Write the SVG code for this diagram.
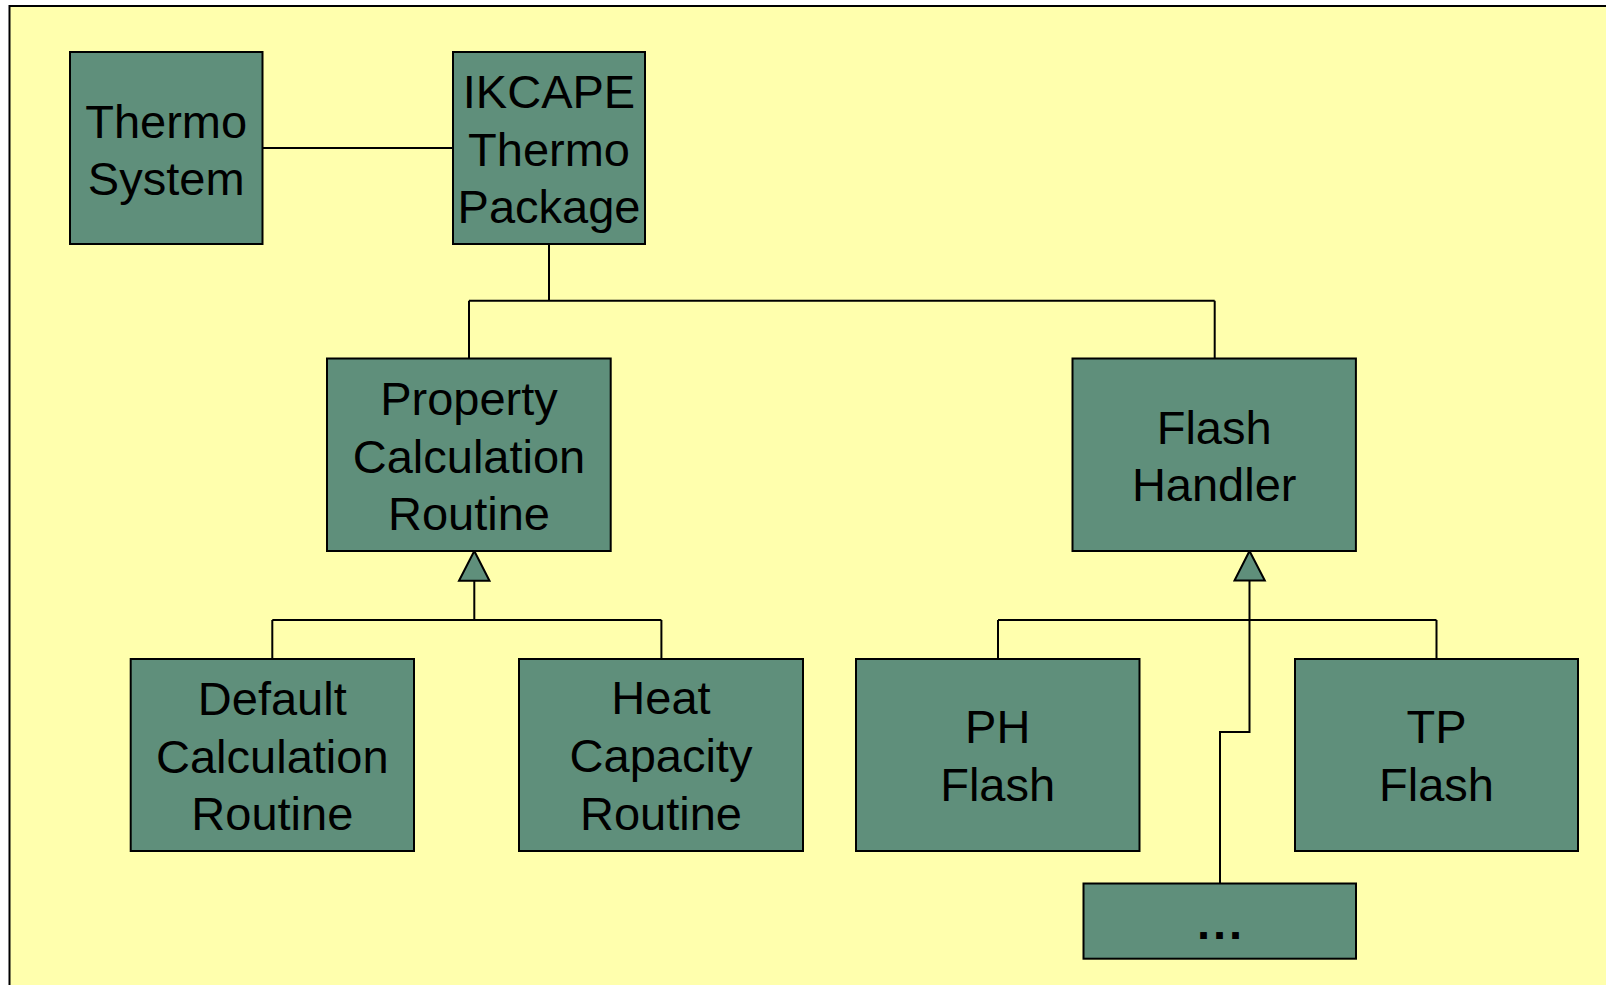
<svg xmlns="http://www.w3.org/2000/svg" width="1606" height="985" viewBox="0 0 1606 985">
<style>
.box{fill:#5F8F7B;stroke:#000;stroke-width:2}
.lbl{font-family:"Liberation Sans",Arial,sans-serif;font-size:47px;fill:#000;text-anchor:middle}
.ln{fill:none;stroke:#000;stroke-width:2}
.tri{fill:#5F8F7B;stroke:#000;stroke-width:2;stroke-linejoin:miter}
</style>
<rect x="0" y="0" width="1606" height="985" fill="#FFFFFF"/>
<rect x="9.5" y="6" width="1610" height="990" fill="#FFFFAD" stroke="#000" stroke-width="2"/>
<g id="connectors">
<path class="ln" d="M262.5,148H453"/>
<path class="ln" d="M549,244V300.7M469,300.7H1214.7M469,300.7V358.5M1214.7,300.7V358.5"/>
<path class="ln" d="M474.3,580.7V620M272.3,620H661.4M272.3,620V659M661.4,620V659"/>
<polygon class="tri" points="474.3,551 459,580.7 489.5,580.7"/>
<path class="ln" d="M1249.5,580.6V732H1220V883.5M998,620H1436.5M998,620V659M1436.5,620V659"/>
<polygon class="tri" points="1249.5,551 1234.5,580.6 1264.8,580.6"/>
</g>
<g id="thermo-system">
<rect class="box" x="70" y="52" width="192.5" height="192"/>
<text class="lbl" x="166.2" y="137.5">Thermo</text>
<text class="lbl" x="166.2" y="194.5">System</text>
</g>
<g id="ikcape">
<rect class="box" x="453" y="52" width="192" height="192"/>
<text class="lbl" x="549" y="108.3">IKCAPE</text>
<text class="lbl" x="549" y="165.7">Thermo</text>
<text class="lbl" x="549" y="223">Package</text>
</g>
<g id="property">
<rect class="box" x="327" y="358.5" width="283.7" height="192.5"/>
<text class="lbl" x="469" y="415">Property</text>
<text class="lbl" x="469" y="472.5">Calculation</text>
<text class="lbl" x="469" y="530">Routine</text>
</g>
<g id="flash-handler">
<rect class="box" x="1072.5" y="358.5" width="283.4" height="192.5"/>
<text class="lbl" x="1214.2" y="443.6">Flash</text>
<text class="lbl" x="1214.2" y="501.3">Handler</text>
</g>
<g id="default">
<rect class="box" x="130.7" y="659" width="283.3" height="192"/>
<text class="lbl" x="272.3" y="715">Default</text>
<text class="lbl" x="272.3" y="772.7">Calculation</text>
<text class="lbl" x="272.3" y="830">Routine</text>
</g>
<g id="heat">
<rect class="box" x="519" y="659" width="284" height="192"/>
<text class="lbl" x="661" y="714">Heat</text>
<text class="lbl" x="661" y="772">Capacity</text>
<text class="lbl" x="661" y="830">Routine</text>
</g>
<g id="ph-flash">
<rect class="box" x="856" y="659" width="283.5" height="192"/>
<text class="lbl" x="997.7" y="742.7">PH</text>
<text class="lbl" x="997.7" y="801">Flash</text>
</g>
<g id="tp-flash">
<rect class="box" x="1295" y="659" width="283" height="192"/>
<text class="lbl" x="1436.5" y="742.7">TP</text>
<text class="lbl" x="1436.5" y="801">Flash</text>
</g>
<g id="more">
<rect class="box" x="1083.5" y="883.5" width="272.5" height="75.2"/>
<text class="lbl" x="1221" y="939" font-weight="bold" letter-spacing="3">...</text>
</g>
</svg>
